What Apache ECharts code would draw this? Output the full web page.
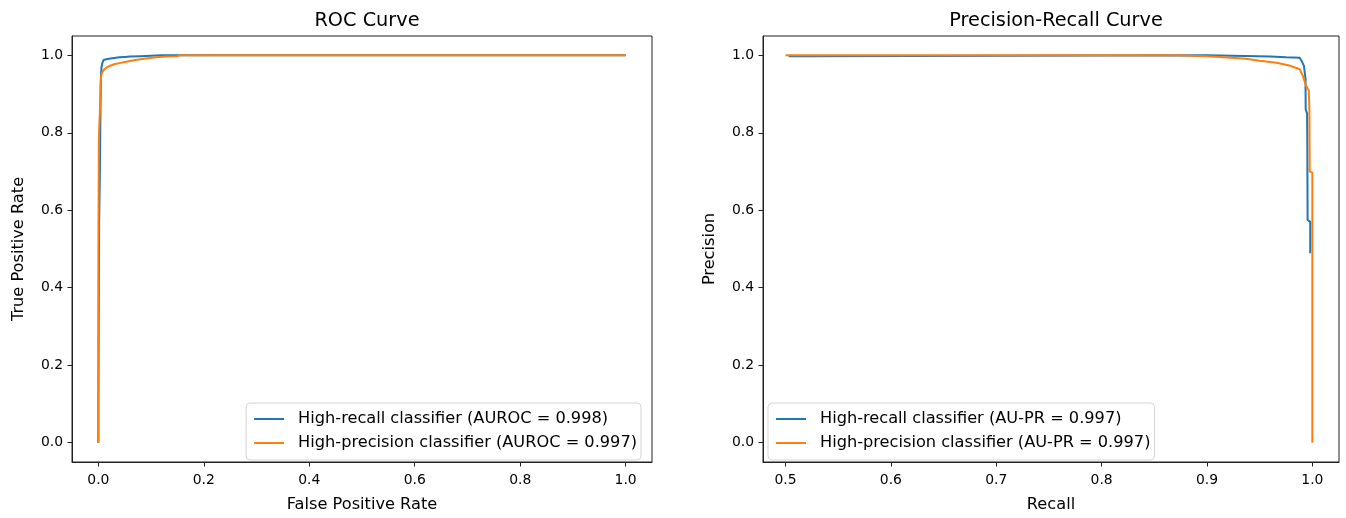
<!DOCTYPE html>
<html>
<head>
<meta charset="utf-8">
<script src="https://cdn.jsdelivr.net/npm/echarts@6/dist/echarts.min.js"></script>
<style>
  html, body { margin: 0; padding: 0; background: #fff; }
  #chart { width: 1346px; height: 518px; }
</style>
</head>
<body>
<div id="chart"></div>
<script>
// ROC curve points (false positive rate, true positive rate)
const rocRecallFpr = [0, 0, 0.0015, 0.0015, 0.003, 0.003, 0.004, 0.004, 0.005, 0.006, 0.008, 0.010, 0.015, 0.020, 0.030, 0.040, 0.050, 0.060, 0.080, 0.100, 0.120, 1.0];
const rocRecallTpr = [0, 0.10, 0.10, 0.57, 0.57, 0.71, 0.71, 0.86, 0.95, 0.97, 0.982, 0.988, 0.990, 0.991, 0.993, 0.995, 0.996, 0.997, 0.998, 0.999, 1.0, 1.0];
const rocPrecisionFpr = [0, 0, 0.001, 0.001, 0.003, 0.003, 0.004, 0.005, 0.007, 0.010, 0.015, 0.020, 0.030, 0.040, 0.050, 0.070, 0.090, 0.110, 0.130, 0.150, 0.155, 1.0];
const rocPrecisionTpr = [0, 0.48, 0.48, 0.79, 0.79, 0.86, 0.92, 0.945, 0.955, 0.962, 0.968, 0.972, 0.977, 0.980, 0.983, 0.988, 0.992, 0.995, 0.997, 0.998, 1.0, 1.0];

// Precision-recall curve points (recall, precision)
const prRecallRecall = [0.503, 0.525, 0.525, 0.900, 0.900, 0.960, 0.975, 0.988, 0.990, 0.992, 0.9935, 0.9937, 0.9950, 0.9952, 0.9955, 0.998, 0.998];
const prRecallPrecision = [0.998, 0.998, 1.0, 1.0, 0.997, 0.997, 0.995, 0.994, 0.985, 0.973, 0.94, 0.86, 0.85, 0.79, 0.575, 0.57, 0.489];
const prPrecisionRecall = [0.500, 0.871, 0.871, 0.905, 0.905, 0.937, 0.950, 0.966, 0.978, 0.988, 0.991, 0.994, 0.9966, 0.9972, 0.9975, 1.0, 1.0];
const prPrecisionPrecision = [1.0, 1.0, 0.997, 0.997, 0.993, 0.991, 0.986, 0.981, 0.974, 0.964, 0.947, 0.922, 0.909, 0.86, 0.70, 0.697, 0.0];

// Series names and tick values
const rocNames = ['High-recall classifier (AUROC = 0.998)', 'High-precision classifier (AUROC = 0.997)'];
const prNames = ['High-recall classifier (AU-PR = 0.997)', 'High-precision classifier (AU-PR = 0.997)'];
const unitTicks = [0, 0.2, 0.4, 0.6, 0.8, 1.0];
const recallTicks = [0.5, 0.6, 0.7, 0.8, 0.9, 1.0];

const BLUE = '#1f77b4';
const ORANGE = '#ff7f0e';
const FONT = 'DejaVu Sans';
const TICK_SIZE = 13.9;
const LABEL_SIZE = 16.2;
const TITLE_SIZE = 19.3;

const zip = (xs, ys) => xs.map((x, i) => [x, ys[i]]);

function valueAxis(gridIndex, min, max, ticks, name, isY, nameGap) {
  return {
    type: 'value',
    gridIndex,
    min, max,
    name,
    nameLocation: 'middle',
    nameGap,
    nameRotate: isY ? 90 : 0,
    nameTextStyle: { fontFamily: FONT, fontSize: LABEL_SIZE, color: '#000' },
    splitLine: { show: false },
    axisLine: { show: true, onZero: false, lineStyle: { color: '#222', width: 1 } },
    axisTick: { show: true, customValues: ticks, length: 4.5, lineStyle: { color: '#222', width: 1 } },
    axisLabel: {
      customValues: ticks,
      formatter: v => v.toFixed(1),
      fontFamily: FONT, fontSize: TICK_SIZE, color: '#000',
      margin: isY ? 9 : 11
    }
  };
}

function legendBox(pos, names) {
  return Object.assign({
    orient: 'vertical',
    data: names,
    icon: 'rect',
    itemWidth: 30,
    itemHeight: 2,
    itemGap: 8,
    padding: [8, 4, 9, 8],
    backgroundColor: 'rgba(255,255,255,0.8)',
    borderColor: '#d5d5d5',
    borderWidth: 1,
    borderRadius: 4,
    textStyle: { fontFamily: FONT, fontSize: LABEL_SIZE, color: '#000', padding: [0, 0, 0, 9] }
  }, pos);
}

function lineSeries(name, data, color, xi) {
  return {
    name, type: 'line', data,
    xAxisIndex: xi, yAxisIndex: xi,
    showSymbol: false, symbol: 'none',
    lineStyle: { color, width: 2 },
    itemStyle: { color },
    animation: false
  };
}

const chart = echarts.init(document.getElementById('chart'), null, { renderer: 'canvas' });
chart.setOption({
  animation: false,
  title: [
    { text: 'ROC Curve', left: 362, top: 6, textAlign: 'center',
      textStyle: { fontFamily: FONT, fontSize: TITLE_SIZE, fontWeight: 'normal', color: '#000' } },
    { text: 'Precision-Recall Curve', left: 1051, top: 6, textAlign: 'center',
      textStyle: { fontFamily: FONT, fontSize: TITLE_SIZE, fontWeight: 'normal', color: '#000' } }
  ],
  grid: [
    { left: 72, top: 36, width: 580, height: 433, show: true, borderColor: '#222', borderWidth: 1, containLabel: false },
    { left: 763, top: 36, width: 576, height: 433, show: true, borderColor: '#222', borderWidth: 1, containLabel: false }
  ],
  xAxis: [
    valueAxis(0, -0.05, 1.05, unitTicks, 'False Positive Rate', false, 35),
    valueAxis(1, 0.4786, 1.0253, recallTicks, 'Recall', false, 35)
  ],
  yAxis: [
    valueAxis(0, -0.05, 1.05, unitTicks, 'True Positive Rate', true, 45),
    valueAxis(1, -0.05, 1.05, unitTicks, 'Precision', true, 45)
  ],
  legend: [
    legendBox({ right: 705, bottom: 58 }, rocNames),
    legendBox({ left: 768, bottom: 58 }, prNames)
  ],
  series: [
    lineSeries(rocNames[0], zip(rocRecallFpr, rocRecallTpr), BLUE, 0),
    lineSeries(rocNames[1], zip(rocPrecisionFpr, rocPrecisionTpr), ORANGE, 0),
    lineSeries(prNames[0], zip(prRecallRecall, prRecallPrecision), BLUE, 1),
    lineSeries(prNames[1], zip(prPrecisionRecall, prPrecisionPrecision), ORANGE, 1)
  ]
});
</script>
</body>
</html>
